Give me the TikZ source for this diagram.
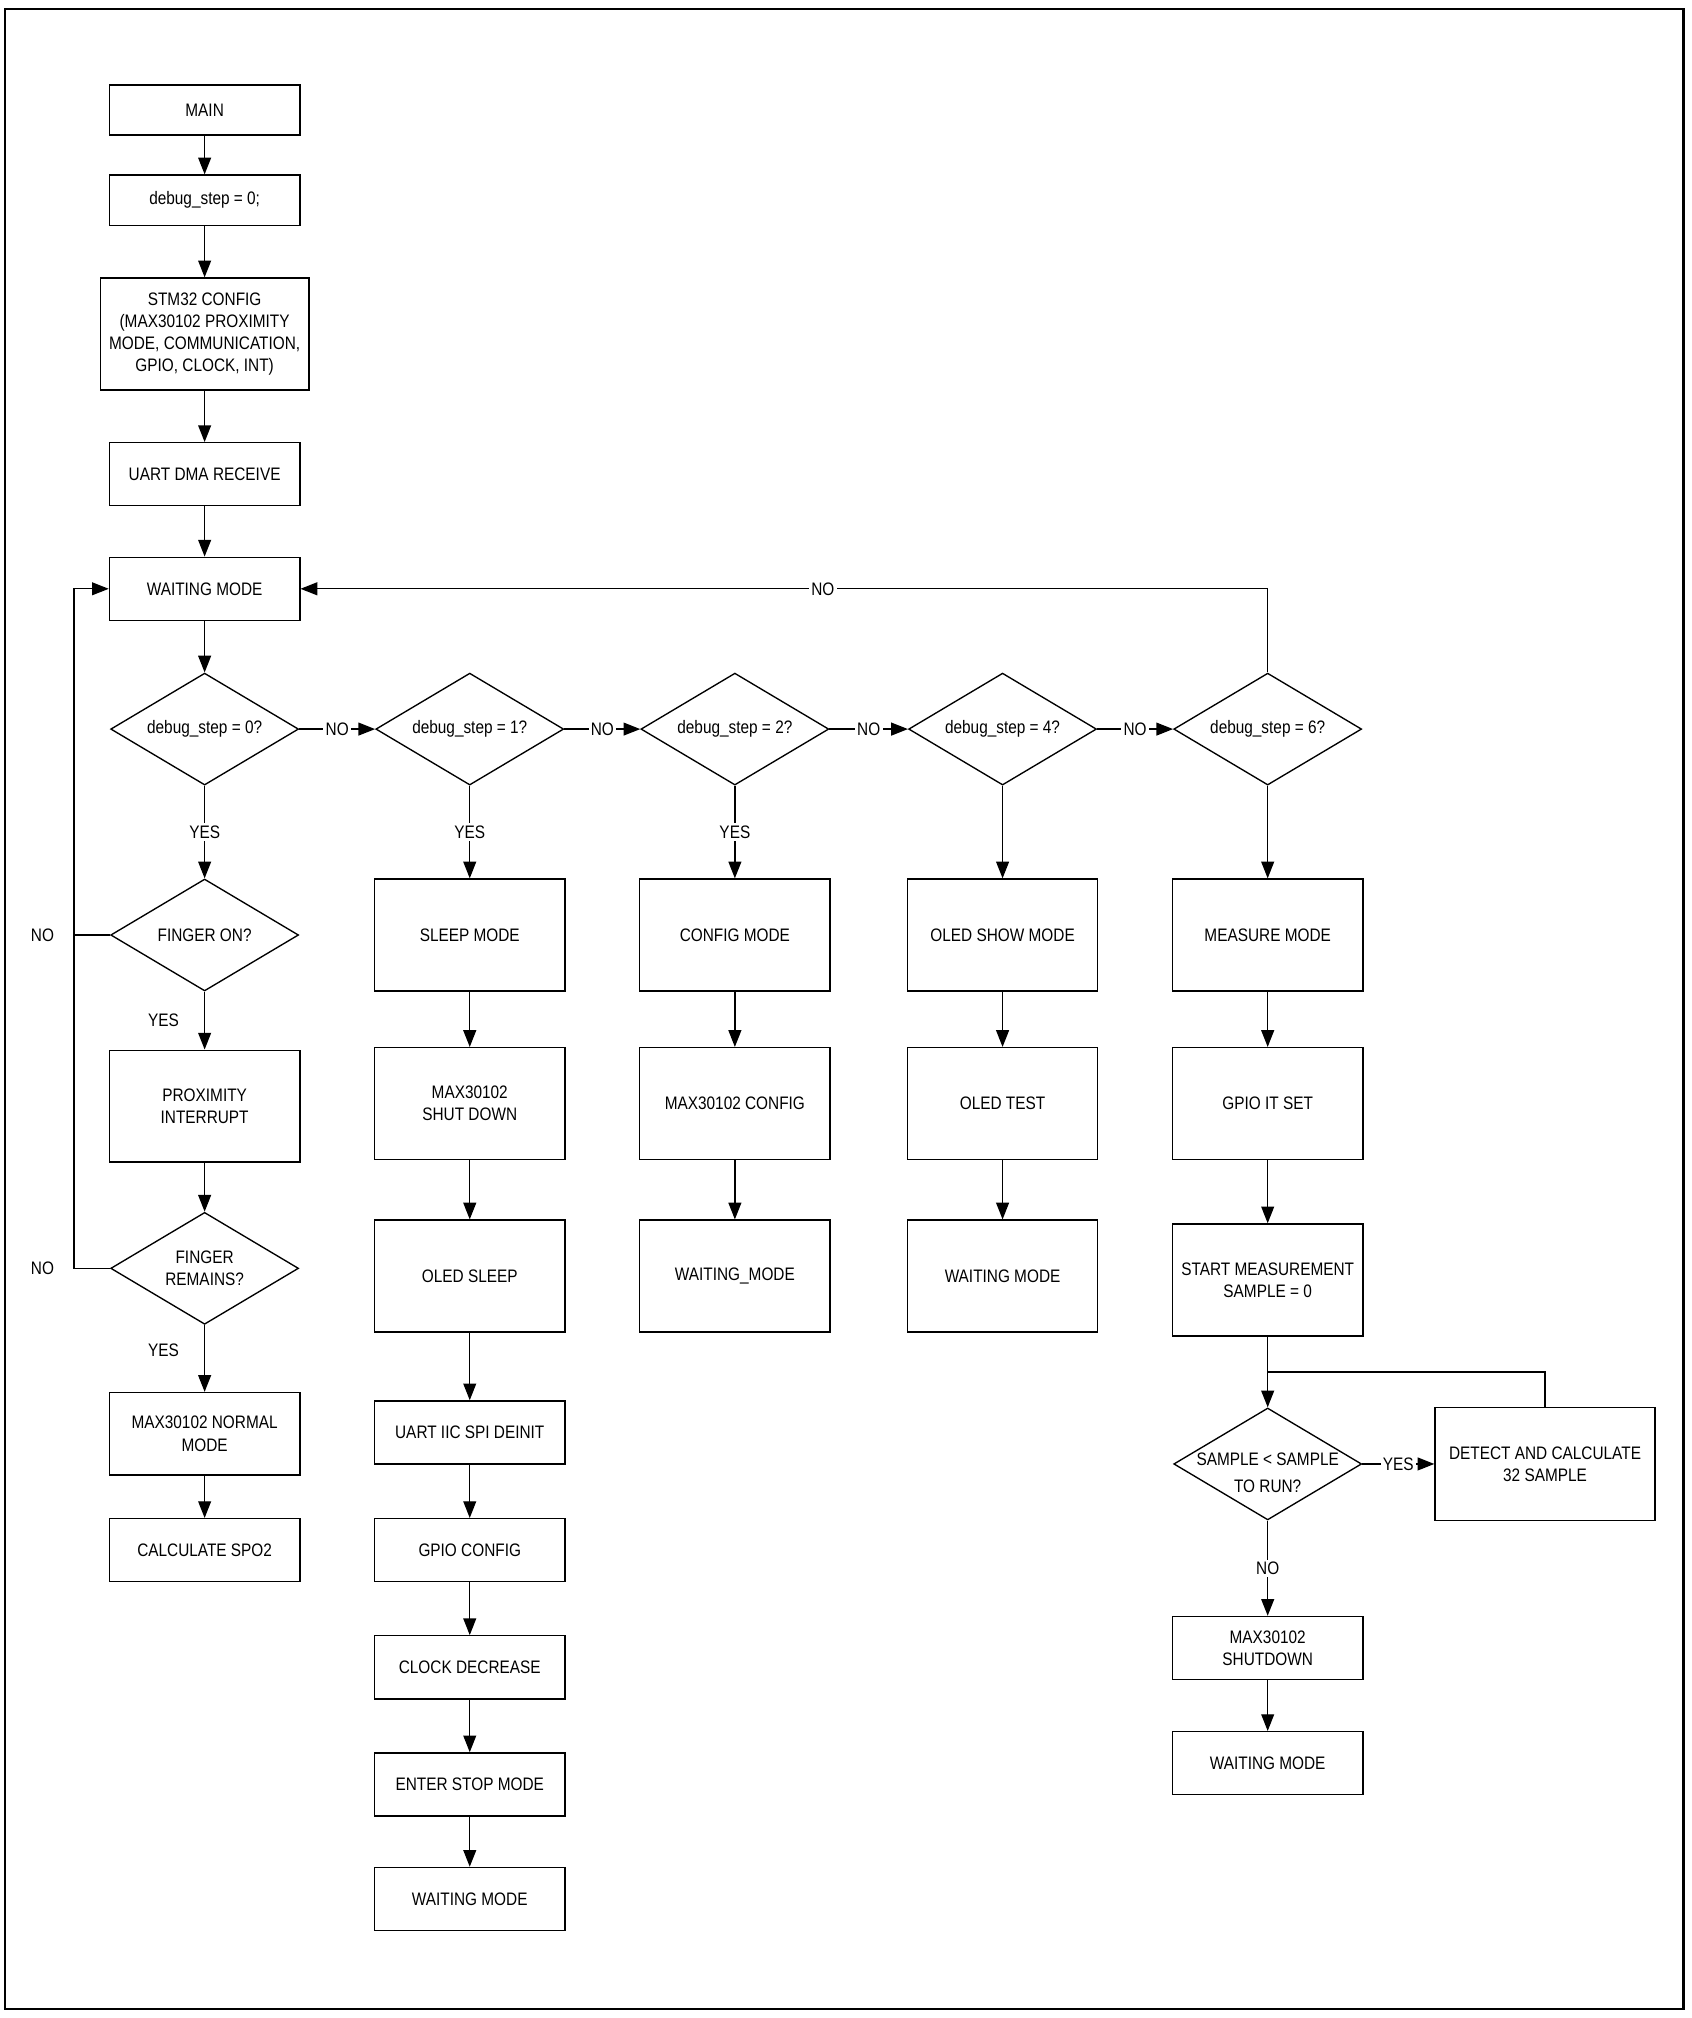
\documentclass[tikz,border=0pt]{standalone}
\usepackage{fontspec}
\setmainfont[FakeStretch=0.85]{Liberation Sans}
\usepackage{tikz}
\usetikzlibrary{shapes, arrows.meta, positioning, calc}

\tikzset{
  box/.style={draw, minimum width=2.96cm, minimum height=0.98cm, align=center, inner sep=1pt},
  tallbox/.style={box, minimum height=1.74cm},
  decision/.style={diamond, draw, aspect=1.68, minimum width=2.92cm, minimum height=1.74cm, inner sep=0pt, align=center},
  lbl/.style={fill=white, inner sep=1pt},
  arr/.style={-{Triangle[length=0.26cm, width=0.2cm]}}
}

\begin{document}
\begin{tikzpicture}[x=0.02cm, y=-0.02cm, line width=0.6pt, every node/.style={font=\fontsize{8}{9.8}\selectfont}]

\useasboundingbox (0,0) rectangle (1314,1568);
\draw[line width=1pt] (4,7) rectangle (1308,1561);

%//start column
\node[box, minimum height=0.78cm] (main) at (159,85.5) {MAIN};
\node[box, minimum height=0.78cm] (dbg) at (159,155.5) {debug\_step = 0;};
\node[box, minimum width=3.24cm, minimum height=1.74cm] (stm) at (159,259.5) {STM32 CONFIG\\(MAX30102 PROXIMITY\\MODE, COMMUNICATION,\\GPIO, CLOCK, INT)};
\node[box] (uart) at (159,368.5) {UART DMA RECEIVE};
\node[box] (wait) at (159,457.5) {WAITING MODE};

\foreach \x/\n in {159/0, 365/1, 571/2, 779/4, 985/6}
\node[decision] (d\n) at (\x,566.5) {debug\_step = \n?};

\node[decision] (fon) at (159,726.5) {FINGER ON?};
\node[tallbox] (prox) at (159,859.5) {PROXIMITY\\INTERRUPT};
\node[decision] (frem) at (159,985.5) {FINGER\\REMAINS?};
\node[box, minimum height=1.28cm] (norm) at (159,1114) {MAX30102 NORMAL\\MODE};
\node[box] (spo) at (159,1204.5) {CALCULATE SPO2};

\node (yes1) at (127,793) {YES};
\node (yes2) at (127,1049) {YES};
\node (no1) at (33,726.5) {NO};
\node (no2) at (33,985.5) {NO};

%//debug_step = 1
\foreach \y/\n/\txt in {726.5/a1/SLEEP MODE, 857.5/a2/{MAX30102\\SHUT DOWN}, 991.5/a3/OLED SLEEP}
\node[tallbox] (\n) at (365,\y) {\txt};
\foreach \y/\n/\txt in {1113/a4/UART IIC SPI DEINIT, 1204.5/a5/GPIO CONFIG, 1295.5/a6/CLOCK DECREASE, 1386.5/a7/ENTER STOP MODE, 1475.5/a8/WAITING MODE}
\node[box] (\n) at (365,\y) {\txt};

%//debug_step = 2
\foreach \y/\n/\txt in {726.5/b1/CONFIG MODE, 857.5/b2/MAX30102 CONFIG, 991.5/b3/WAITING\_MODE}
\node[tallbox] (\n) at (571,\y) {\txt};

%//debug_step = 4
\foreach \y/\n/\txt in {726.5/c1/OLED SHOW MODE, 857.5/c2/OLED TEST, 991.5/c3/WAITING MODE}
\node[tallbox] (\n) at (779,\y) {\txt};

%//debug_step = 6
\foreach \y/\n/\txt in {726.5/e1/MEASURE MODE, 857.5/e2/GPIO IT SET, 994.5/e3/{START MEASUREMENT\\SAMPLE = 0}}
\node[tallbox] (\n) at (985,\y) {\txt};

\node[decision, label={[name=smptxt, align=center, yshift=-0.14cm]center:{SAMPLE < SAMPLE\\[2pt]TO RUN?}}] (smp) at (985,1137.5) {};
\node[box, minimum width=3.42cm, minimum height=1.76cm] (det) at (1200.5,1137.5) {DETECT AND CALCULATE\\32 SAMPLE};
\node[box] (sd) at (985,1280.5) {MAX30102\\SHUTDOWN};
\node[box] (wt5) at (985,1370) {WAITING MODE};
\coordinate (jn) at (985,1066);

%//arrows
\foreach \p/\q in {main/dbg, dbg/stm, stm/uart, uart/wait, wait/d0, fon/prox, prox/frem, frem/norm, norm/spo,
  a1/a2, a2/a3, a3/a4, a4/a5, a5/a6, a6/a7, a7/a8, b1/b2, b2/b3, c1/c2, c2/c3, d4/c1,
  d6/e1, e1/e2, e2/e3, e3/smp, sd/wt5}
\draw[arr] (\p) -- (\q);

\foreach \p/\q in {d0/fon, d1/a1, d2/b1}
\draw[arr] (\p) -- node[lbl]{YES} (\q);

\foreach \p/\q in {d0/d1, d1/d2, d2/d4, d4/d6}
\draw[arr] (\p) -- node[lbl]{NO} (\q);

\draw[arr] (d6.north) |- node[lbl, pos=0.73]{NO} (wait.east);
\draw[arr] (fon.west) -- ++(-28,0) coordinate (lp) |- (wait.west);
\draw (frem.west) -| (lp);

\draw[arr] (smp) -- node[lbl]{YES} (det);
\draw (det.north) |- (jn);
\draw[arr] (smp) -- node[lbl]{NO} (sd);

\end{tikzpicture}
\end{document}
